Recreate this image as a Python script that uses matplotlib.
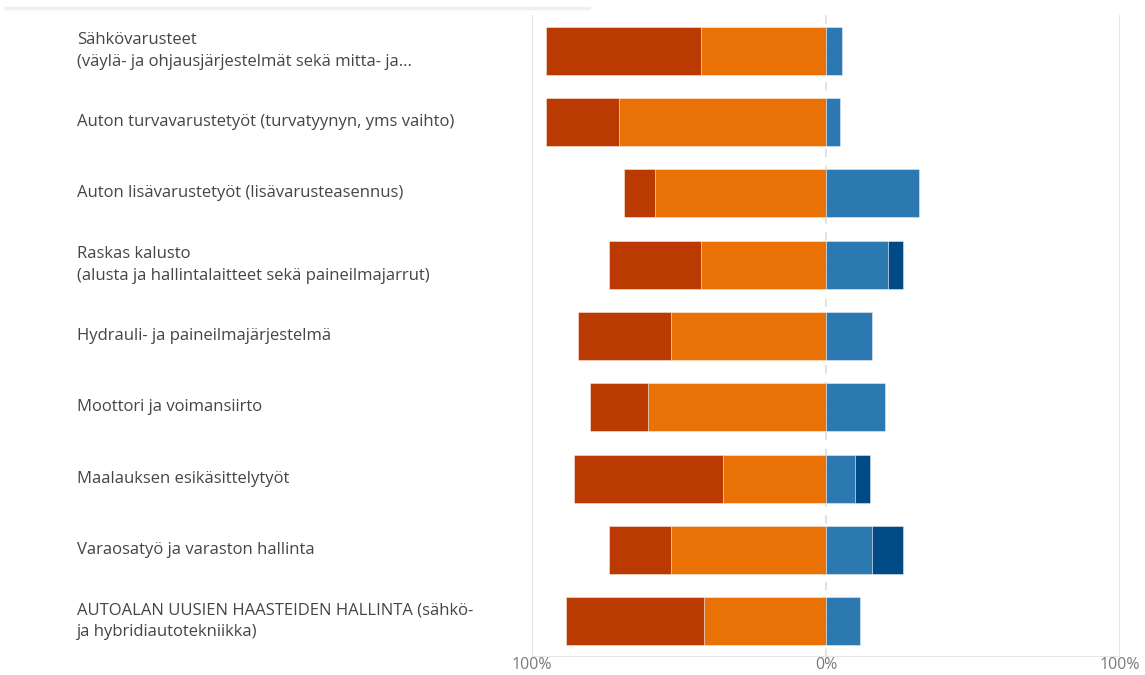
import matplotlib
matplotlib.use("Agg")
import matplotlib.pyplot as plt
from matplotlib.transforms import blended_transform_factory
from matplotlib.lines import Line2D
import numpy as np

categories = [
    "Sähkövarusteet\n(väylä- ja ohjausjärjestelmät sekä mitta- ja...",
    "Auton turvavarustetyöt (turvatyynyn, yms vaihto)",
    "Auton lisävarustetyöt (lisävarusteasennus)",
    "Raskas kalusto\n(alusta ja hallintalaitteet sekä paineilmajarrut)",
    "Hydrauli- ja paineilmajärjestelmä",
    "Moottori ja voimansiirto",
    "Maalauksen esikäsittelytyöt",
    "Varaosatyö ja varaston hallinta",
    "AUTOALAN UUSIEN HAASTEIDEN HALLINTA (sähkö-\nja hybridiautotekniikka)",
]
very_neg = [52.6, 24.7, 10.5, 31.3, 31.9, 20.0, 50.5, 21.2, 47.1]
neg = [42.5, 70.4, 58.3, 42.5, 52.6, 60.4, 35.2, 52.6, 41.5]
pos = [5.4, 4.9, 31.6, 21.1, 15.5, 20.1, 10.0, 15.6, 11.4]
very_pos = [0, 0, 0, 5.0, 0, 0, 5.1, 10.5, 0]
tick_vals = [-100, 0, 100]
tick_labels = ["100%", "0%", "100%"]

c_vneg = "#BA3A02"
c_neg = "#EA7106"
c_pos = "#2B79B0"
c_vpos = "#004B85"

plt.rcParams['font.family'] = ['Open Sans', 'DejaVu Sans']

W, H = 1145, 675
fig = plt.figure(figsize=(W / 100, H / 100), dpi=100)
ax = fig.add_axes([532 / W, (H - 657) / H, (1120 - 532) / W, (657 - 15) / H])

y = np.arange(len(categories))
vn = np.array(very_neg)
n = np.array(neg)
p = np.array(pos)
vp = np.array(very_pos)
h = 0.67
ec = (1, 1, 1, 0.5)
ax.barh(y, -n, left=0, height=h, color=c_neg, edgecolor=ec, linewidth=0.6, zorder=3)
ax.barh(y, -vn, left=-n, height=h, color=c_vneg, edgecolor=ec, linewidth=0.6, zorder=3)
ax.barh(y, p, left=0, height=h, color=c_pos, edgecolor=ec, linewidth=0.6, zorder=3)
mask = vp > 0
ax.barh(y[mask], vp[mask], left=p[mask], height=h, color=c_vpos, edgecolor=ec, linewidth=0.6, zorder=3)

ax.set_xlim(-100, 100)
ax.set_ylim(len(categories) - 0.5, -0.5)
for s in ax.spines.values():
    s.set_visible(False)
ax.axvline(-100, color="#E6E6E6", lw=1.5, zorder=1)
ax.axvline(100, color="#E6E6E6", lw=1.5, zorder=1)
ax.axvline(0, color="#E3E3E3", lw=1.5, ls=(0, (4, 4)), zorder=1)
ax.axhline(len(categories) - 0.5, color="#E6E6E6", lw=1.5, zorder=1)

ax.set_yticks([])
ax.set_xticks(tick_vals)
ax.set_xticklabels(tick_labels)
ax.tick_params(axis="x", length=0, pad=0, labelsize=11.5, labelcolor="#7A7A7A")

tr = blended_transform_factory(fig.transFigure, ax.transData)
for yi, lab in zip(y, categories):
    ax.text(77 / W, yi, lab, transform=tr, ha="left", va="center",
            fontsize=12, color="#454545", linespacing=1.5)

fig.add_artist(Line2D([5 / W, 589 / W], [(H - 8) / H, (H - 8) / H],
                      transform=fig.transFigure, color="#F2EEF0", lw=2.5))

fig.savefig("out.png", dpi=100, facecolor="white")
